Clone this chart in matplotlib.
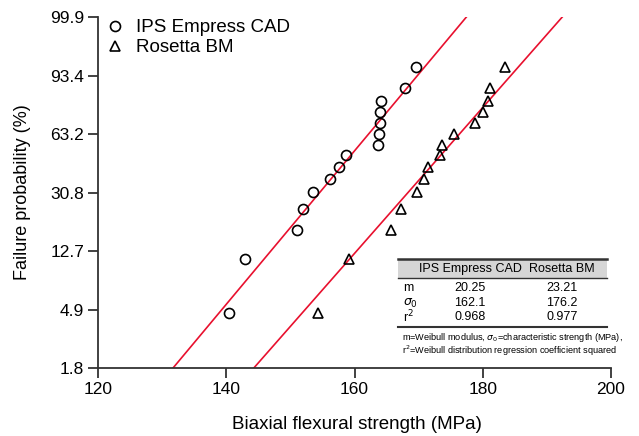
import numpy as np
import matplotlib
matplotlib.use("Agg")
import matplotlib.pyplot as plt
from matplotlib.patches import Rectangle

plt.rcParams['font.family'] = ['Liberation Sans', 'DejaVu Sans']

# IPS Empress CAD (circles)
ips_strength = [140.5, 143.0, 151.0, 152.0, 153.6, 156.2, 157.6, 158.6,
                163.6, 163.8, 164.0, 164.0, 164.2, 167.9, 169.6]
# Rosetta BM (triangles)
ros_strength = [154.3, 159.1, 165.7, 167.3, 169.7, 170.8, 171.5, 173.3,
                173.7, 175.5, 178.8, 180.0, 180.8, 181.2, 183.5]
# failure probability (%) for the ranked specimens
fail_prob = [4.6, 11.1, 17.6, 24.1, 30.9, 37.1, 43.6, 50.4,
             56.5, 63.2, 69.9, 76.5, 82.9, 89.0, 95.6]

# regression lines: strength at the bottom and top of the plot
fit_levels = [-4, 2]
ips_fit = [131.7, 177.45]
ros_fit = [144.3, 192.4]

ytick_levels = [-4, -3, -2, -1, 0, 1, 2]
ytick_labels = ['1.8', '4.9', '12.7', '30.8', '63.2', '93.4', '99.9']
xticks = [120, 140, 160, 180, 200]

# table
tab_rows = ['m', r'$\sigma_0$', r'r$^2$']
tab_ips = ['20.25', '162.1', '0.968']
tab_ros = ['23.21', '176.2', '0.977']


def lnln(p):
    p = np.asarray(p, dtype=float) / 100.0
    return np.log(-np.log(1.0 - p))


W, H = 639, 436
fig = plt.figure(figsize=(W / 100, H / 100), dpi=100)
ax = fig.add_axes([98 / W, 1 - 368 / H, (611 - 98) / W, (368 - 17) / H])

ax.plot(ips_fit, fit_levels, color='#e8102e', lw=1.2, zorder=1)
ax.plot(ros_fit, fit_levels, color='#e8102e', lw=1.2, zorder=1)
ax.plot(ips_strength, lnln(fail_prob), 'o', ms=7.2, mfc='none', mec='black',
        mew=1.2, label='IPS Empress CAD', zorder=3)
ax.plot(ros_strength, lnln(fail_prob), '^', ms=7.5, mfc='none', mec='black',
        mew=1.2, label='Rosetta BM', zorder=3)

ax.set_xlim(120, 200)
ax.set_ylim(-4, 2)
ax.set_xticks(xticks)
ax.set_yticks(ytick_levels)
ax.set_yticklabels(ytick_labels)
for s in ['top', 'right']:
    ax.spines[s].set_visible(False)
for s in ['left', 'bottom']:
    ax.spines[s].set_color('#333333')
    ax.spines[s].set_linewidth(1.3)
ax.tick_params(direction='out', length=7, width=1.3, color='#333333',
               labelsize=12.5, pad=3)
ax.set_xlabel('Biaxial flexural strength (MPa)', fontsize=13.5)
ax.set_ylabel('Failure probability (%)', fontsize=13)
ax.xaxis.set_label_coords((357 - 98) / (611 - 98), -(424 - 368) / (368 - 17))
ax.yaxis.set_label_coords(-(98 - 23) / (611 - 98), 0.5)
ax.xaxis.label.set_va('center')
ax.yaxis.label.set_va('center')

ax.legend(loc='upper left', frameon=False, fontsize=13.5, handletextpad=0.5,
          borderaxespad=0.0, borderpad=0.3, labelspacing=0.15,
          bbox_to_anchor=(0.0, 1.01), handlelength=1.2)

# inset table drawn in figure pixel coordinates
def fx(px):
    return px / W


def fy(py):
    return 1 - py / H


x0, x1 = 397.7, 607.3
fig.patches.append(Rectangle((fx(x0), fy(278)), fx(x1) - fx(x0), fy(259.3) - fy(278),
                             transform=fig.transFigure, facecolor='#d6d6d6',
                             edgecolor='none', zorder=0))
for py, lw in [(259.3, 1.8), (278, 1.0), (326.7, 1.5)]:
    fig.add_artist(plt.Line2D([fx(x0), fx(x1)], [fy(py), fy(py)],
                              transform=fig.transFigure, color='#333333', lw=lw))

fig.text(fx(470.5), fy(269), 'IPS Empress CAD', ha='center', va='center', fontsize=9)
fig.text(fx(562), fy(269.5), 'Rosetta BM', ha='center', va='center', fontsize=9)
row_y = [288, 303, 317]
for lab, a, b, py in zip(tab_rows, tab_ips, tab_ros, row_y):
    fig.text(fx(403), fy(py), lab, ha='left', va='center', fontsize=9)
    fig.text(fx(470), fy(py), a, ha='center', va='center', fontsize=9)
    fig.text(fx(562), fy(py), b, ha='center', va='center', fontsize=9)

fig.text(fx(402), fy(337.5),
         r'm=Weibull modulus, $\sigma_0$=characteristic strength (MPa),',
         ha='left', va='center', fontsize=6.6)
fig.text(fx(402), fy(351),
         r'r$^2$=Weibull distribution regression coefficient squared',
         ha='left', va='center', fontsize=6.6)

fig.savefig('out.png', dpi=100)
